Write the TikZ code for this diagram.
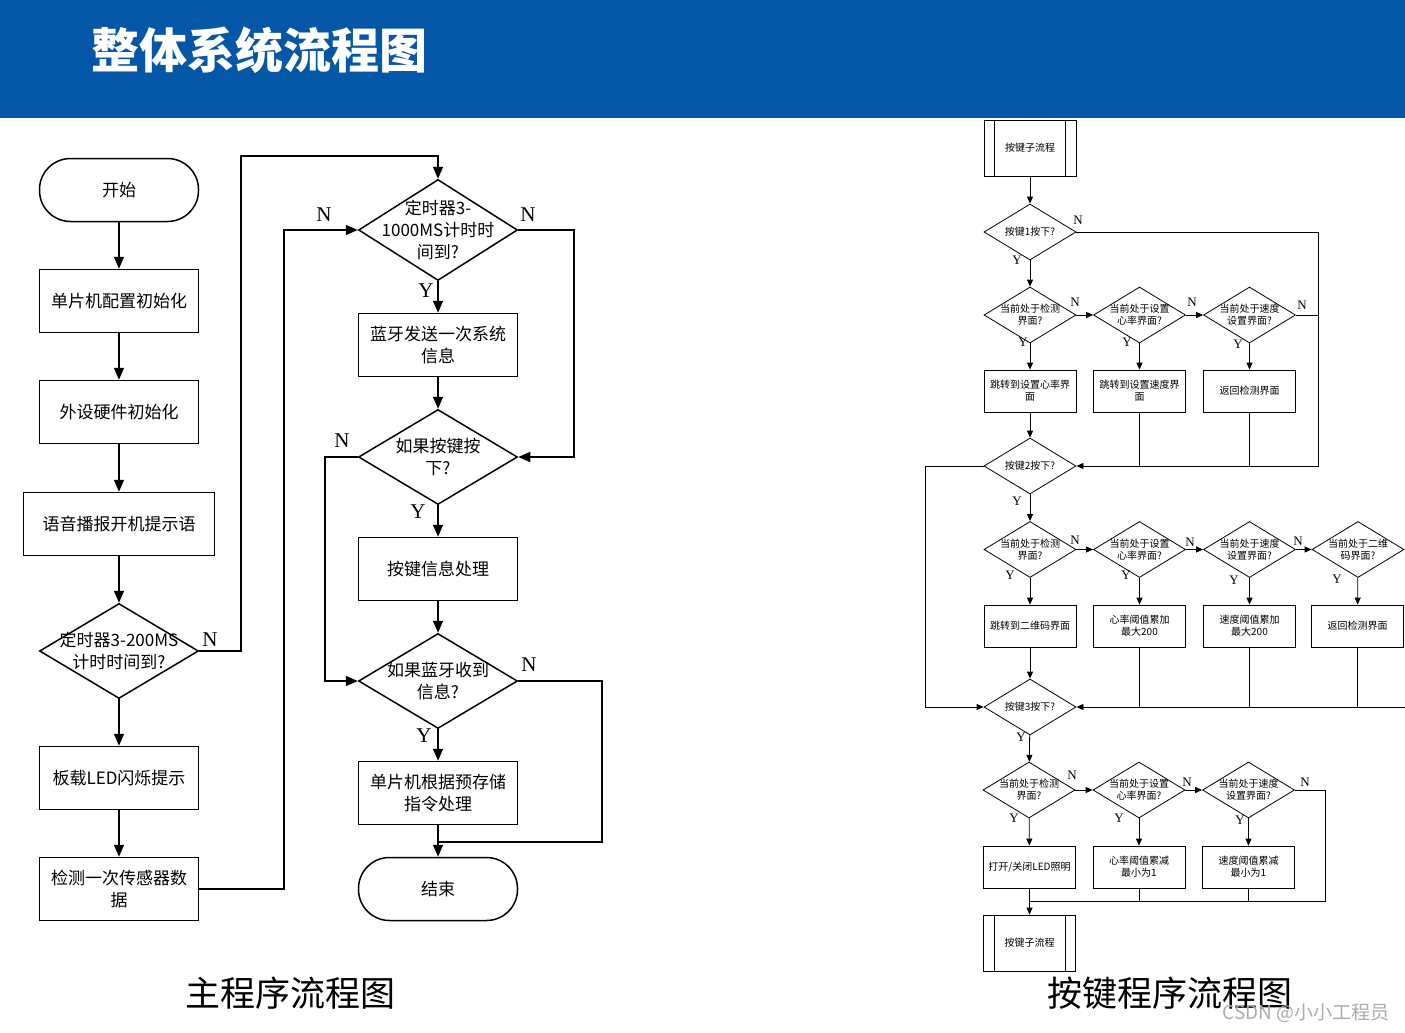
\documentclass[tikz,border=0pt]{standalone}
\usepackage{fontspec}
\setmainfont{Noto Sans CJK SC}
\newfontfamily\serf{Liberation Serif}
\usetikzlibrary{shapes.geometric,arrows.meta}
\definecolor{barblue}{HTML}{0456A6}
\begin{document}
\begin{tikzpicture}[x=1pt,y=-1pt,
  mline/.style={line width=1.5pt},
  marr/.style={mline,-{Triangle[length=12pt,width=10pt]}},
  mbox/.style={draw,line width=1.5pt,minimum width=159pt,minimum height=63pt,inner sep=0pt,align=center,font=\fontsize{17}{22}\selectfont},
  mterm/.style={mbox,rounded corners=31pt},
  mdia/.style={draw,diamond,line width=1.5pt,minimum width=159pt,minimum height=95pt,inner sep=0pt},
  mtxt/.style={align=center,font=\fontsize{17}{22}\selectfont,inner sep=0pt},
  mlab/.style={font=\serf\fontsize{21}{21}\selectfont,inner sep=0pt},
  kline/.style={line width=0.8pt},
  karr/.style={kline,-{Triangle[length=7pt,width=6pt]}},
  kbox/.style={draw,line width=0.8pt,minimum width=92pt,minimum height=42pt,inner sep=0pt,align=center,font=\fontsize{10}{12}\selectfont},
  kproc/.style={kbox,minimum height=56pt},
  kdia/.style={draw,diamond,line width=0.8pt,minimum width=92pt,minimum height=56pt,inner sep=0pt},
  ktxt/.style={align=center,font=\fontsize{10}{12}\selectfont,inner sep=0pt},
  klab/.style={font=\serf\fontsize{13}{13}\selectfont,inner sep=0pt}
]
\useasboundingbox (0,0) rectangle (1405,1033);
\fill[white] (0,0) rectangle (1405,1033);
\fill[barblue] (0,0) rectangle (1405,118);
\node[text=white,font=\bfseries\fontsize{48}{48}\selectfont,anchor=west,inner sep=0pt] (title) at (91,50) {整体系统流程图};

% ===== main program =====
\node[mterm] (start) at (119,190) {开始};
\node[mbox] (b1) at (119,301) {单片机配置初始化};
\node[mbox] (b2) at (119,412) {外设硬件初始化};
\node[mbox,minimum width=191pt] (b3) at (119,524) {语音播报开机提示语};
\node[mdia] (d1) at (119,651) {};
\node[mtxt] (d1t) at (d1) {定时器3-200MS\\计时时间到?};
\node[mbox] (b4) at (119,778) {板载LED闪烁提示};
\node[mbox] (b5) at (119,889) {检测一次传感器数\\据};

\node[mdia,minimum height=101pt] (d2) at (438,230) {};
\node[mtxt] (d2t) at (d2) {定时器3-\\1000MS计时时\\间到?};
\node[mbox] (b6) at (438,345) {蓝牙发送一次系统\\信息};
\node[mdia] (d3) at (438,457) {};
\node[mtxt] (d3t) at (d3) {如果按键按\\下?};
\node[mbox] (b7) at (438,569) {按键信息处理};
\node[mdia] (d4) at (438,681) {};
\node[mtxt] (d4t) at (d4) {如果蓝牙收到\\信息?};
\node[mbox] (b8) at (438,793) {单片机根据预存储\\指令处理};
\node[mterm] (end) at (438,889) {结束};

\draw[marr] (start) -- (b1);
\draw[marr] (b1) -- (b2);
\draw[marr] (b2) -- (b3);
\draw[marr] (b3) -- (d1);
\draw[marr] (d1) -- (b4);
\draw[marr] (b4) -- (b5);
\draw[marr] (d1.east) -| (241,156) -| (d2.north);
\draw[marr] (b5.east) -| (284,230) -- (d2.west);
\draw[marr] (d2.south) -- (b6.north);
\draw[marr] (b6) -- (d3);
\draw[marr] (d2.east) -| (574,457) -- (d3.east);
\draw[marr] (d3.west) -| (325,681) -- (d4.west);
\draw[marr] (d3.south) -- (b7.north);
\draw[marr] (b7) -- (d4);
\draw[marr] (d4.south) -- (b8.north);
\draw[mline] (d4.east) -| (602,842) -- (438,842);
\draw[marr] (b8.south) -- (end.north);

\node[mlab] at (210,640) {N};
\node[mlab] at (324,215) {N};
\node[mlab] at (528,215) {N};
\node[mlab] at (426,291) {Y};
\node[mlab] at (342,441) {N};
\node[mlab] at (418,512) {Y};
\node[mlab] at (529,665) {N};
\node[mlab] at (424,736) {Y};

% ===== key program =====
\node[kproc] (p1) at (1030,148) {按键子流程};
\draw[kline] ([xshift=11pt]p1.north west) -- ([xshift=11pt]p1.south west);
\draw[kline] ([xshift=-11pt]p1.north east) -- ([xshift=-11pt]p1.south east);
\node[kdia] (k1) at (1030,232) {};
\node[ktxt] at (k1) {按键1按下?};

\node[kdia] (a1) at (1030,315) {};
\node[ktxt] at (a1) {当前处于检测\\界面?};
\node[kdia] (a2) at (1139.5,315) {};
\node[ktxt] at (a2) {当前处于设置\\心率界面?};
\node[kdia] (a3) at (1249.5,315) {};
\node[ktxt] at (a3) {当前处于速度\\设置界面?};
\node[kbox] (c1) at (1030,391) {跳转到设置心率界\\面};
\node[kbox] (c2) at (1139.5,391) {跳转到设置速度界\\面};
\node[kbox] (c3) at (1249.5,391) {返回检测界面};

\node[kdia] (k2) at (1030,466) {};
\node[ktxt] at (k2) {按键2按下?};

\node[kdia] (e1) at (1030,549.5) {};
\node[ktxt] at (e1) {当前处于检测\\界面?};
\node[kdia] (e2) at (1139.5,549.5) {};
\node[ktxt] at (e2) {当前处于设置\\心率界面?};
\node[kdia] (e3) at (1249.5,549.5) {};
\node[ktxt] at (e3) {当前处于速度\\设置界面?};
\node[kdia] (e4) at (1358,549.5) {};
\node[ktxt] at (e4) {当前处于二维\\码界面?};
\node[kbox] (f1) at (1030,626) {跳转到二维码界面};
\node[kbox] (f2) at (1139.5,626) {心率阈值累加\\最大200};
\node[kbox] (f3) at (1249.5,626) {速度阈值累加\\最大200};
\node[kbox] (f4) at (1357.5,626) {返回检测界面};

\node[kdia] (k3) at (1030,707) {};
\node[ktxt] at (k3) {按键3按下?};

\node[kdia] (g1) at (1029,790) {};
\node[ktxt] at (g1) {当前处于检测\\界面?};
\node[kdia] (g2) at (1139,790) {};
\node[ktxt] at (g2) {当前处于设置\\心率界面?};
\node[kdia] (g3) at (1248.5,790) {};
\node[ktxt] at (g3) {当前处于速度\\设置界面?};
\node[kbox] (h1) at (1029.5,867) {打开/关闭LED照明};
\node[kbox] (h2) at (1139,867) {心率阈值累减\\最小为1};
\node[kbox] (h3) at (1248.5,867) {速度阈值累减\\最小为1};

\node[kproc] (p2) at (1029.5,943) {按键子流程};
\draw[kline] ([xshift=11pt]p2.north west) -- ([xshift=11pt]p2.south west);
\draw[kline] ([xshift=-11pt]p2.north east) -- ([xshift=-11pt]p2.south east);

\coordinate (redge) at (1405,707);

\draw[karr] (p1) -- (k1);
\draw[karr] (k1.east) -| (1318,466) -- (k2.east);
\draw[karr] (k1) -- (a1);
\draw[karr] (a1) -- (a2);
\draw[karr] (a2) -- (a3);
\draw[kline] (a3.east) -- (1318,315);
\draw[karr] (a1) -- (c1);
\draw[karr] (a2) -- (c2);
\draw[karr] (a3) -- (c3);
\draw[karr] (c1) -- (k2);
\draw[kline] (c2.south) -- (c2.south |- k2.east);
\draw[kline] (c3.south) -- (c3.south |- k2.east);

\draw[karr] (k2.west) -| (925,707) -- (k3.west);
\draw[karr] (k2) -- (e1);
\draw[karr] (e1) -- (e2);
\draw[karr] (e2) -- (e3);
\draw[karr] (e3) -- (e4);
\draw[karr] (e1) -- (f1);
\draw[karr] (e2) -- (f2);
\draw[karr] (e3) -- (f3);
\draw[karr] (e4) -- (f4);
\draw[karr] (f1) -- (k3);
\draw[kline] (f2.south) -- (f2.south |- k3.east);
\draw[kline] (f3.south) -- (f3.south |- k3.east);
\draw[kline] (f4.south) -- (f4.south |- k3.east);
\draw[karr] (redge) -- (k3.east);

\draw[karr] (k3) -- (g1);
\draw[karr] (g1) -- (g2);
\draw[karr] (g2) -- (g3);
\draw[karr] (g1) -- (h1);
\draw[karr] (g2) -- (h2);
\draw[karr] (g3) -- (h3);
\draw[kline] (g3.east) -| (1325,901) -- (1030,901);
\draw[kline] (h2.south) -- (h2.south |- 0,901);
\draw[kline] (h3.south) -- (h3.south |- 0,901);
\draw[karr] (h1.south) -- (p2.north);

\node[klab] at (1078,220) {N};
\node[klab] at (1017,260) {Y};
\node[klab] at (1075,302) {N};
\node[klab] at (1192,302) {N};
\node[klab] at (1302,305) {N};
\node[klab] at (1023,342) {Y};
\node[klab] at (1127,342) {Y};
\node[klab] at (1238,344) {Y};
\node[klab] at (1017,501) {Y};
\node[klab] at (1075,540) {N};
\node[klab] at (1190,542) {N};
\node[klab] at (1298,541) {N};
\node[klab] at (1010,575) {Y};
\node[klab] at (1126,575) {Y};
\node[klab] at (1234,580) {Y};
\node[klab] at (1337,579) {Y};
\node[klab] at (1021,737) {Y};
\node[klab] at (1072,775) {N};
\node[klab] at (1187,782) {N};
\node[klab] at (1305,782) {N};
\node[klab] at (1014,818) {Y};
\node[klab] at (1119,818) {Y};
\node[klab] at (1240,820) {Y};

% captions
\node[font=\fontsize{35}{35}\selectfont,inner sep=0pt] (cap1) at (290,993) {主程序流程图};
\node[font=\fontsize{35}{35}\selectfont,inner sep=0pt] (cap2) at (1170,993) {按键程序流程图};
\node[text=gray!65,font=\fontsize{19}{19}\selectfont,anchor=east,inner sep=0pt] (wm) at (1390,1013) {CSDN @小小工程员};
\end{tikzpicture}
\end{document}
